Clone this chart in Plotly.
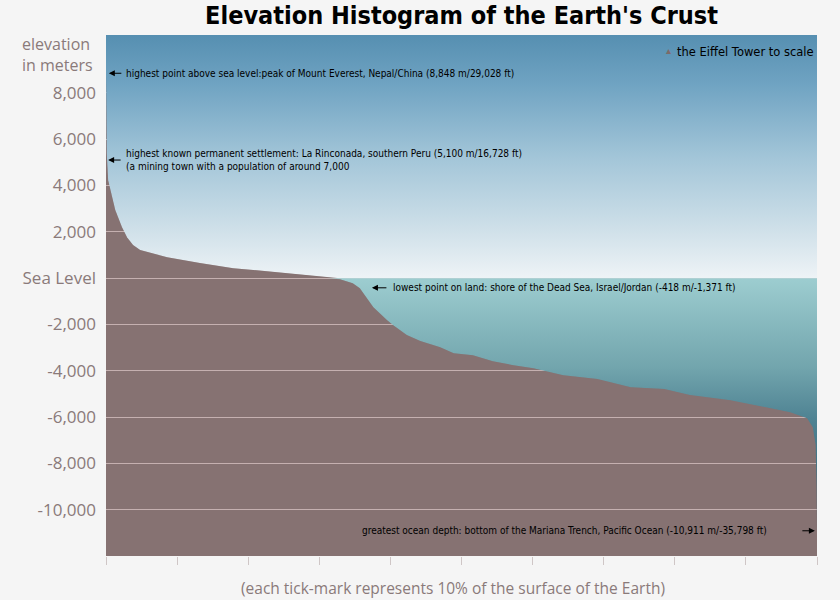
import numpy as np
import plotly.graph_objects as go

# ---- data: share of Earth's surface (%) vs elevation (m) ----
surface_pct = [0, 0.1, 0.3, 0.85, 1.3, 2.25, 2.95, 3.8, 4.8, 8.6, 13.2, 17.9, 22.6, 27.3,
               31.1, 32.9, 34.7, 35.7, 36.7, 37.6, 38.5, 39.5, 40.4, 42.3, 44.2, 47.0,
               48.9, 51.6, 54.4, 57.3, 60.1, 64.3, 69.1, 73.8, 78.5, 82.1, 87.8, 92.4,
               96.2, 98.6, 99.4, 99.8, 99.95, 100]
elevation_m = [8848, 5400, 4230, 3500, 2940, 2200, 1770, 1430, 1210, 905, 650, 432, 302, 173,
               43, -43, -216, -432, -860, -1253, -1512, -1810, -2030, -2460, -2720, -2980,
               -3240, -3330, -3590, -3760, -3890, -4190, -4360, -4710, -4790, -5050, -5270, -5570,
               -5790, -6050, -6440, -7200, -9000, -10911]

y_tick_vals = [8000, 6000, 4000, 2000, 0, -2000, -4000, -6000, -8000, -10000]
y_tick_text = ["8,000", "6,000", "4,000", "2,000", "Sea Level", "-2,000", "-4,000",
               "-6,000", "-8,000", "-10,000"]
x_tick_vals = list(range(0, 101, 10))
y_range = [-12000, 10500]

# landmark labels
landmark_pct = [0.4, 0.3, 37.4, 99.7]
landmark_elev = [8848, 5100, -418, -10911]
landmark_text = [
    "highest point above sea level:peak of Mount Everest, Nepal/China (8,848 m/29,028 ft)",
    "highest known permanent settlement: La Rinconada, southern Peru (5,100 m/16,728 ft)<br>(a mining town with a population of around 7,000",
    "lowest point on land: shore of the Dead Sea, Israel/Jordan (-418 m/-1,371 ft)",
    "greatest ocean depth: bottom of the Mariana Trench, Pacific Ocean (-10,911 m/-35,798 ft)",
]

LAND = "#867272"
pct = np.array(surface_pct, dtype=float)
elev = np.array(elevation_m, dtype=float)

fig = go.Figure()

# sky: from max(elev,0) up to top of axis
sky_low = np.maximum(elev, 0)
fig.add_trace(go.Scatter(
    x=np.concatenate([pct, pct[::-1]]),
    y=np.concatenate([sky_low, np.full(len(pct), y_range[1])]),
    fill="toself", mode="lines", line=dict(width=0), hoverinfo="skip",
    fillgradient=dict(type="vertical", start=0, stop=y_range[1],
                      colorscale=[[0, "#eef3f6"], [0.2, "#cfe0e9"], [0.5, "#a2c5d8"],
                                  [0.8, "#6fa3c2"], [1, "#568fb1"]]),
    showlegend=False))

# sea water: between min(elev,0) and 0
water_low = np.minimum(elev, 0)
fig.add_trace(go.Scatter(
    x=np.concatenate([pct, pct[::-1]]),
    y=np.concatenate([water_low, np.zeros(len(pct))]),
    fill="toself", mode="lines", line=dict(width=0), hoverinfo="skip",
    fillgradient=dict(type="vertical", start=0, stop=-11000,
                      colorscale=[[0, "#9dcdd0"], [0.35, "#72a5ad"], [0.55, "#4f8393"],
                                  [1, "#2e5e72"]]),
    showlegend=False))

# land (crust) from elevation curve down to bottom
fig.add_trace(go.Scatter(
    x=np.concatenate([pct, [100, 0]]),
    y=np.concatenate([elev, [y_range[0], y_range[0]]]),
    fill="toself", mode="lines", line=dict(width=0, color=LAND),
    fillcolor="rgba(134,114,114,0.35)", hoverinfo="skip", showlegend=False))

ann_font = dict(family="Liberation Sans Narrow, DejaVu Sans Condensed, sans-serif",
                size=10, color="black")

annotations = []
arrow_dx = [14, 14, 16, -14]
for i, (xp, ye) in enumerate(zip(landmark_pct, landmark_elev)):
    annotations.append(dict(x=xp, y=ye, xref="x", yref="y", text="", showarrow=True,
                            ax=arrow_dx[i], ay=0, arrowhead=2, arrowsize=1.2,
                            arrowwidth=1, arrowcolor="black"))
text_pos = [(2.5, "left"), (2.5, "left"), (40.1, "left"), (93.3, "right")]
for (xp, anchor), ye, txt in zip(text_pos, landmark_elev, landmark_text):
    annotations.append(dict(x=xp, y=ye, xref="x", yref="y", text=txt, showarrow=False,
                            xanchor=anchor, yanchor="middle", align="left", font=ann_font))

annotations.append(dict(x=0.9986, y=1 - (52 - 35) / 521, xref="paper", yref="paper",
                        yanchor="middle", xanchor="right", showarrow=False,
                        text="the Eiffel Tower to scale",
                        font=dict(family="DejaVu Sans", size=11.5, color="black")))
annotations.append(dict(x=(668 - 106) / 711, y=1 - (51 - 35) / 521, xref="paper",
                        yref="paper", text="▴", showarrow=False, xanchor="center",
                        yanchor="middle", font=dict(family="DejaVu Sans", size=10,
                                                    color="#7d6a6a")))
annotations.append(dict(x=-0.121, y=1 - (55 - 35) / 521, xref="paper", yref="paper",
                        text="elevation<br>in meters", showarrow=False, xanchor="left",
                        yanchor="middle", align="left",
                        font=dict(family="Open Sans", size=16, color="#8a7a7a")))
annotations.append(dict(x=0.488, y=-(588 - 556) / 521, xref="paper", yref="paper",
                        text="(each tick-mark represents 10% of the surface of the Earth)",
                        showarrow=False, xanchor="center", yanchor="middle",
                        font=dict(family="Open Sans", size=15.5, color="#8a7a7a")))

fig.update_layout(
    width=840, height=600,
    margin=dict(l=106, r=23, t=35, b=44),
    paper_bgcolor="#f5f5f5",
    plot_bgcolor=LAND,
    title=dict(text="<b>Elevation Histogram of the Earth's Crust</b>",
               x=0.5, xref="paper", y=0.975, yanchor="middle",
               font=dict(family="DejaVu Sans Condensed, DejaVu Sans", size=25, color="black")),
    xaxis=dict(range=[0, 100], tickvals=x_tick_vals, showticklabels=False,
               ticks="outside", ticklen=8, tickwidth=1, tickcolor="#cfc6c6",
               showgrid=False, zeroline=False, showline=False, fixedrange=True),
    yaxis=dict(range=y_range, tickvals=y_tick_vals, ticktext=y_tick_text,
               showgrid=True, gridcolor="#e6d2d2", gridwidth=1, zeroline=False,
               showline=False, ticks="", ticklabelstandoff=9,
               tickfont=dict(family="Open Sans", size=17, color="#8a7a7a")),
    annotations=annotations,
)

fig.write_html("out.html", config={"displayModeBar": False},
               post_script="document.body.style.margin='0';document.body.style.overflow='hidden';")
